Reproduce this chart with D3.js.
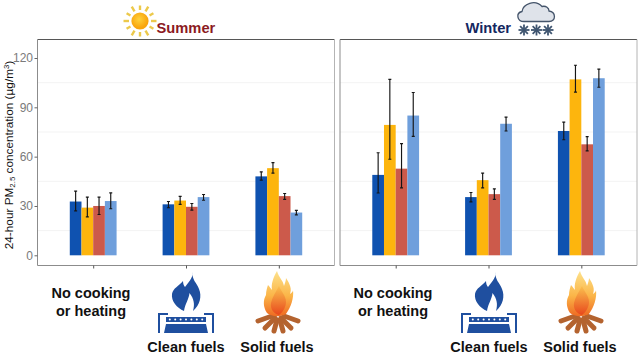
<!DOCTYPE html>
<html>
<head>
<meta charset="utf-8">
<script src="https://cdn.jsdelivr.net/npm/d3@7"></script>
<style>
html,body{margin:0;padding:0;background:#fff;}
svg{display:block;font-family:"Liberation Sans",Arial,sans-serif;}
</style>
</head>
<body>
<div id="chart"></div>
<script>
var WIDTH=640, HEIGHT=354;

// Data: one row per fuel group, one column per bar colour
var categories=["No cooking","Clean fuels","Solid fuels"];
var seriesNames=["s1","s2","s3","s4"];
var seriesColors=["#0f52b0","#fdb50d","#cc5a4b","#6f9fdc"];
var yTicks=[0,30,60,90,120];
var yMinorTicks=[15,45,75,105];

var summerMean=[[32.7,29,30,33],[31,33.3,29.5,35.4],[48,53,36,26]];
var summerLow=[[27,23.4,24.8,28.3],[28.9,31,27.5,33.5],[45.7,50,34,24.6]];
var summerHigh=[[39,35.4,35.4,38],[32.7,35.8,31.5,37],[50.7,56.4,37.6,27.3]];

var winterMean=[[48.9,79.3,52.7,85],[35.4,45.7,37.2,80],[75.6,107,67.5,107.7]];
var winterLow=[[37.9,58.4,41,72.3],[32.5,41,34,75.6],[70.3,99.2,63.5,102.2]];
var winterHigh=[[62.4,107,67.9,99],[38.2,50,40.4,84],[81,115.6,72.2,113.2]];

var svg=d3.select("#chart").append("svg")
  .attr("width",WIDTH)
  .attr("height",HEIGHT);

var defs=svg.append("defs");

var sunGrad=defs.append("radialGradient").attr("id","sunGrad").attr("cx","45%").attr("cy","40%");
sunGrad.append("stop").attr("offset","0%").attr("stop-color","#ffd23c");
sunGrad.append("stop").attr("offset","100%").attr("stop-color","#f9a50e");

var fireGrad=defs.append("linearGradient").attr("id","fireGrad").attr("x1",0).attr("y1",0).attr("x2",0).attr("y2",1);
fireGrad.append("stop").attr("offset","0%").attr("stop-color","#fde28c");
fireGrad.append("stop").attr("offset","55%").attr("stop-color","#fbb548");
fireGrad.append("stop").attr("offset","100%").attr("stop-color","#ee6a22");

var innerGrad=defs.append("linearGradient").attr("id","innerGrad").attr("x1",0).attr("y1",0).attr("x2",0).attr("y2",1);
innerGrad.append("stop").attr("offset","0%").attr("stop-color","#fbc04e");
innerGrad.append("stop").attr("offset","100%").attr("stop-color","#e8481c");

// same y scale for both panels
var y=d3.scaleLinear().domain([0,120]).range([255.3,58]);

function drawPanel(left,right,mean,low,high,showY){
  var top=39.5, bottom=265.5;

  var x=d3.scalePoint().domain(categories).range([left,right]).padding(0.6);
  var inner=d3.scaleBand().domain(seriesNames).range([-23.4,23.4]);

  var g=svg.append("g");

  //Grid menor
  g.selectAll(".minor").data(yMinorTicks).enter().append("line")
    .attr("x1",left).attr("x2",right)
    .attr("y1",function(d){return y(d)}).attr("y2",function(d){return y(d)})
    .attr("stroke","#f3f3f3").attr("stroke-width",1);

  categories.forEach(function(cat,i){
    var group=g.append("g").attr("transform","translate("+x(cat)+",0)");

    group.selectAll("rect").data(seriesNames).enter().append("rect")
      .attr("x",function(s){return inner(s)})
      .attr("width",inner.bandwidth())
      .attr("y",function(s,j){return y(mean[i][j])})
      .attr("height",function(s,j){return y(0)-y(mean[i][j])})
      .attr("fill",function(s,j){return seriesColors[j]});

    group.selectAll(".err").data(seriesNames).enter().append("path")
      .attr("class","err")
      .attr("d",function(s,j){
        var cx=inner(s)+inner.bandwidth()/2, yl=y(low[i][j]), yh=y(high[i][j]);
        return "M"+(cx-1.5)+","+yh+"H"+(cx+1.5)+"M"+cx+","+yh+"V"+yl+"M"+(cx-1.5)+","+yl+"H"+(cx+1.5);
      })
      .attr("fill","none")
      .attr("stroke","#161616")
      .attr("stroke-width",1.15);
  });

  //Bordes del panel
  var borders=[
    [left,top,right,top,"#565656"],
    [left,top,left,bottom,"#8c8c8c"],
    [left,bottom,right,bottom,"#8c8c8c"],
    [right,top,right,bottom,"#b4b4b4"]
  ];
  g.selectAll(".border").data(borders).enter().append("line")
    .attr("x1",function(d){return d[0]}).attr("y1",function(d){return d[1]})
    .attr("x2",function(d){return d[2]}).attr("y2",function(d){return d[3]})
    .attr("stroke",function(d){return d[4]}).attr("stroke-width",1);

  var xAxis=svg.append("g")
    .attr("transform","translate(0,"+bottom+")")
    .call(d3.axisBottom(x).tickSize(3).tickFormat(""));
  xAxis.select(".domain").remove();
  xAxis.selectAll("line").attr("stroke","#555");

  if(showY){
    var yAxis=svg.append("g")
      .attr("transform","translate("+left+",0)")
      .call(d3.axisLeft(y).tickValues(yTicks).tickSize(3).tickPadding(1.5));
    yAxis.select(".domain").remove();
    yAxis.selectAll("line").attr("stroke","#666");
    yAxis.selectAll("text")
      .style("font-family","'Liberation Sans',Arial,sans-serif")
      .style("font-size","12px")
      .attr("fill","#7a7a7a");
  }
}

drawPanel(37.5,334.5,summerMean,summerLow,summerHigh,true);
drawPanel(340,637,winterMean,winterLow,winterHigh,false);

//Titulo del eje y
var yLabel=svg.append("text")
  .attr("transform","translate(12.5,155) rotate(-90)")
  .style("text-anchor","middle")
  .style("font-size","11.8px")
  .attr("fill","#111");
yLabel.append("tspan").text("24-hour PM");
yLabel.append("tspan").attr("dy",2.5).style("font-size","7.8px").text("2.5");
yLabel.append("tspan").attr("dy",-2.5).text(" concentration (µg/m");
yLabel.append("tspan").attr("dy",-3.5).style("font-size","7.8px").text("3");
yLabel.append("tspan").attr("dy",3.5).text(")");

//Titulos de estacion
svg.append("text").attr("x",156.5).attr("y",33)
  .style("font-size","14.7px").style("font-weight","bold")
  .attr("fill","#8c1a22").text("Summer");
svg.append("text").attr("x",465.5).attr("y",33)
  .style("font-size","14.7px").style("font-weight","bold")
  .attr("fill","#14275f").text("Winter");

//Etiquetas de categoria
function catLabel(x,yPos,txt){
  svg.append("text").attr("x",x).attr("y",yPos)
    .style("text-anchor","middle")
    .style("font-size","14.5px").style("font-weight","bold")
    .attr("fill","#111").text(txt);
}
catLabel(91,298,"No cooking");
catLabel(91,316,"or heating");
catLabel(186,352,"Clean fuels");
catLabel(277,352,"Solid fuels");
catLabel(393,298,"No cooking");
catLabel(393,316,"or heating");
catLabel(489,352,"Clean fuels");
catLabel(580,352,"Solid fuels");

//Sol
var sun=svg.append("g").attr("transform","translate(140,21)");
sun.selectAll("line").data(d3.range(12)).enter().append("line")
  .attr("x1",function(d){return 11*Math.cos(d*Math.PI/6)})
  .attr("y1",function(d){return 11*Math.sin(d*Math.PI/6)})
  .attr("x2",function(d){return (d%2?15.5:16.5)*Math.cos(d*Math.PI/6)})
  .attr("y2",function(d){return (d%2?15.5:16.5)*Math.sin(d*Math.PI/6)})
  .attr("stroke","#ecc94b").attr("stroke-width",2.4);
sun.append("circle").attr("r",8.6).attr("fill","url(#sunGrad)");

//Nube y copos
svg.append("path")
  .attr("d","M524,21.5C517,21.5 515.5,13 522,11.5C523,4 535,-1 542,6.5C546,5.5 549,8 549,11C556,12 556.5,21.5 549,21.5Z")
  .attr("fill","#dfe3ea").attr("stroke","#44546a").attr("stroke-width",1.3);
[524,536.5,548].forEach(function(cx){
  var flake=svg.append("g").attr("transform","translate("+cx+",30)");
  flake.selectAll("line").data(d3.range(4)).enter().append("line")
    .attr("x1",function(d){return -5.5*Math.cos(d*Math.PI/4)})
    .attr("y1",function(d){return -5.5*Math.sin(d*Math.PI/4)})
    .attr("x2",function(d){return 5.5*Math.cos(d*Math.PI/4)})
    .attr("y2",function(d){return 5.5*Math.sin(d*Math.PI/4)})
    .attr("stroke","#3f5570").attr("stroke-width",1.8);
});

//Icono de gas
function gasIcon(cx){
  var g=svg.append("g").attr("transform","translate("+cx+",292)").attr("fill","#1f4f9f");
  g.append("path").attr("d","M7,-20C5,-13 11,-9 13,-3C16,4 14,13 7,19C9,12 8,7 3.5,1C3,7 -1,12 -2,19C-9,16 -15,9 -14,2C-13,-4 -7,-6 -3,-11C-3,-8 -2,-6 -1,-5C2,-9 7,-14 7,-20Z");
  g.append("path").attr("d","M-28,21H-18V23H-26V41H-28ZM28,21H18V23H26V41H28Z");
  g.append("path").attr("d","M-20,25H20V30H-20ZM-20,32H20L22,41H-22Z");
  g.selectAll("circle").data(d3.range(7)).enter().append("circle")
    .attr("cx",function(d){return -16.2+d*5.4}).attr("cy",27.5).attr("r",1)
    .attr("fill","#fff");
}
gasIcon(186);
gasIcon(489);

//Icono de fogata
function fireIcon(cx){
  var g=svg.append("g").attr("transform","translate("+cx+",292)");
  var logs=[[-20,29,-6,24],[-13,36,-3,26],[-4,39,-1,28],[5,39,2,28],[13,36,3,26],[20,29,6,24]];
  g.selectAll("line").data(logs).enter().append("line")
    .attr("x1",function(d){return d[0]}).attr("y1",function(d){return d[1]})
    .attr("x2",function(d){return d[2]}).attr("y2",function(d){return d[3]})
    .attr("stroke","#b4632f").attr("stroke-width",5).attr("stroke-linecap","round");
  g.append("path")
    .attr("d","M-1,-21C1,-14 5,-12 6,-6C7,-9 8,-12 8,-14C12,-8 14,-3 12,2C14,1 15,-1 15,-2C16,6 13,15 8,22C2,25 -6,25 -11,21C-15,15 -15,8 -12,3C-12,-1 -11,-4 -10,-7C-8,-5 -7,-3 -6,-2C-7,-8 -5,-14 -1,-21Z")
    .attr("fill","url(#fireGrad)");
  g.append("path")
    .attr("d","M1,-6C3,-1 8,4 8,10C8,15 5,20 1,23C-4,22 -8,17 -7,11C-6,6 -3,1 1,-6Z")
    .attr("fill","url(#innerGrad)");
}
fireIcon(278);
fireIcon(581);
</script>
</body>
</html>
